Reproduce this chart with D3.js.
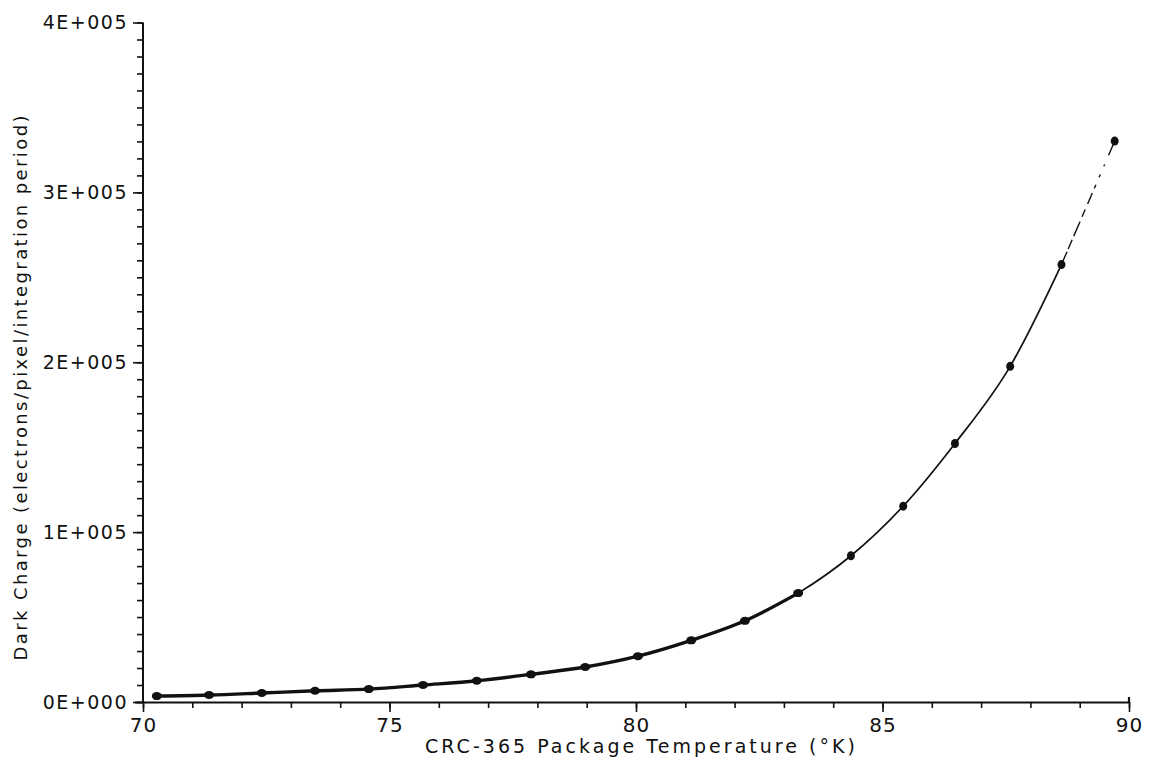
<!DOCTYPE html>
<html>
<head>
<meta charset="utf-8">
<script src="https://cdn.jsdelivr.net/npm/d3@7"></script>
<style>
  html, body { margin: 0; padding: 0; background: #fff; }
  svg { display: block; }
  text { font-family: "DejaVu Sans", sans-serif; fill: #111; }
</style>
</head>
<body>
<svg id="chart" width="1149" height="764"></svg>
<script>
// ---- data ----
const temperatures = [70.28, 71.34, 72.41, 73.49, 74.58, 75.68, 76.77, 77.87, 78.97, 80.04,
                      81.12, 82.21, 83.29, 84.36, 85.42, 86.47, 87.59, 88.63, 89.71];
const darkCharge   = [3500, 4100, 5300, 6600, 7600, 10000, 12500, 16300, 20600, 27000,
                      36300, 47800, 64100, 86100, 115300, 152200, 197600, 257500, 330200];
const xTickValues = [70, 75, 80, 85, 90];
const xTickLabels = ["70", "75", "80", "85", "90"];
const yTickValues = [0, 100000, 200000, 300000, 400000];
const yTickLabels = ["0E+000", "1E+005", "2E+005", "3E+005", "4E+005"];
const xTitle = "CRC-365 Package Temperature (°K)";
const yTitle = "Dark Charge (electrons/pixel/integration period)";

const svg = d3.select("#chart");

const x = d3.scaleLinear().domain([70, 90]).range([143, 1129]);
const y = d3.scaleLinear().domain([0, 400000]).range([702, 22.5]);

const ink = "#111";

// ---- axes ----
const xMinor = d3.range(70, 91, 1);
const yMinor = d3.range(0, 400001, 10000);

const gx = svg.append("g").attr("transform", `translate(0,${y(0)})`);
gx.call(d3.axisBottom(x).tickValues(xMinor).tickSize(6).tickFormat(""));
gx.selectAll(".tick line").attr("stroke", ink).attr("stroke-width", 1.6);
gx.select(".domain").attr("stroke", ink).attr("stroke-width", 2.2)
  .attr("d", `M${x(70) - 8},0.5H${x(90)}V-5`);
const gxMajor = svg.append("g").attr("transform", `translate(0,${y(0)})`);
gxMajor.call(d3.axisBottom(x).tickValues(xTickValues).tickSize(10)
  .tickFormat((d, i) => xTickLabels[i]).tickPadding(6));
gxMajor.select(".domain").remove();
gxMajor.selectAll(".tick line").attr("stroke", ink).attr("stroke-width", 1.6);
gxMajor.selectAll(".tick text").attr("font-size", 20).attr("fill", ink)
  .attr("letter-spacing", 1)
  .attr("font-family", "DejaVu Sans, sans-serif");

const gy = svg.append("g").attr("transform", `translate(${x(70)},0)`);
gy.call(d3.axisLeft(y).tickValues(yMinor).tickSize(6).tickFormat(""));
gy.selectAll(".tick line").attr("stroke", ink).attr("stroke-width", 1.6);
gy.select(".domain").attr("stroke", ink).attr("stroke-width", 2)
  .attr("d", `M0,${y(400000)}V${y(0)}`);
const gyMajor = svg.append("g").attr("transform", `translate(${x(70)},0)`);
gyMajor.call(d3.axisLeft(y).tickValues(yTickValues).tickSize(10)
  .tickFormat((d, i) => yTickLabels[i]).tickPadding(5));
gyMajor.select(".domain").remove();
gyMajor.selectAll(".tick line").attr("stroke", ink).attr("stroke-width", 1.6);
gyMajor.selectAll(".tick text").attr("font-size", 19).attr("fill", ink)
  .attr("letter-spacing", 1.5)
  .attr("font-family", "DejaVu Sans, sans-serif");

// ---- titles ----
svg.append("text")
  .attr("x", 640).attr("y", 753)
  .attr("text-anchor", "middle")
  .attr("font-size", 19)
  .attr("textLength", 430).attr("lengthAdjust", "spacing")
  .text(xTitle);

svg.append("text")
  .attr("transform", `translate(27,388) rotate(-90)`)
  .attr("text-anchor", "middle")
  .attr("font-size", 18)
  .attr("textLength", 545).attr("lengthAdjust", "spacing")
  .text(yTitle);

// ---- data line ----
const pts = temperatures.map((t, i) => [t, darkCharge[i]]);
const line = d3.line().x(d => x(d[0])).y(d => y(d[1])).curve(d3.curveMonotoneX);

// thin solid curve up to the second-to-last point
svg.append("path").datum(pts.slice(0, 18))
  .attr("d", line).attr("fill", "none").attr("stroke", ink).attr("stroke-width", 1.7);
// heavier ink in the low part of the curve
svg.append("path").datum(pts.slice(0, 13))
  .attr("d", line).attr("fill", "none").attr("stroke", ink).attr("stroke-width", 3.4);
// broken final segment
svg.append("path").datum(pts.slice(17))
  .attr("d", d3.line().x(d => x(d[0])).y(d => y(d[1])))
  .attr("fill", "none").attr("stroke", ink).attr("stroke-width", 1.4)
  .attr("stroke-dasharray", "14,3,10,4,16,5,8,6,12,5,4,8,3,9,2,10");

svg.append("g").selectAll("ellipse").data(pts).join("ellipse")
  .attr("cx", d => x(d[0])).attr("cy", d => y(d[1]))
  .attr("rx", (d, i) => i < 13 ? 5 : 4).attr("ry", (d, i) => i < 13 ? 4 : 4.5)
  .attr("fill", ink);
</script>
</body>
</html>
